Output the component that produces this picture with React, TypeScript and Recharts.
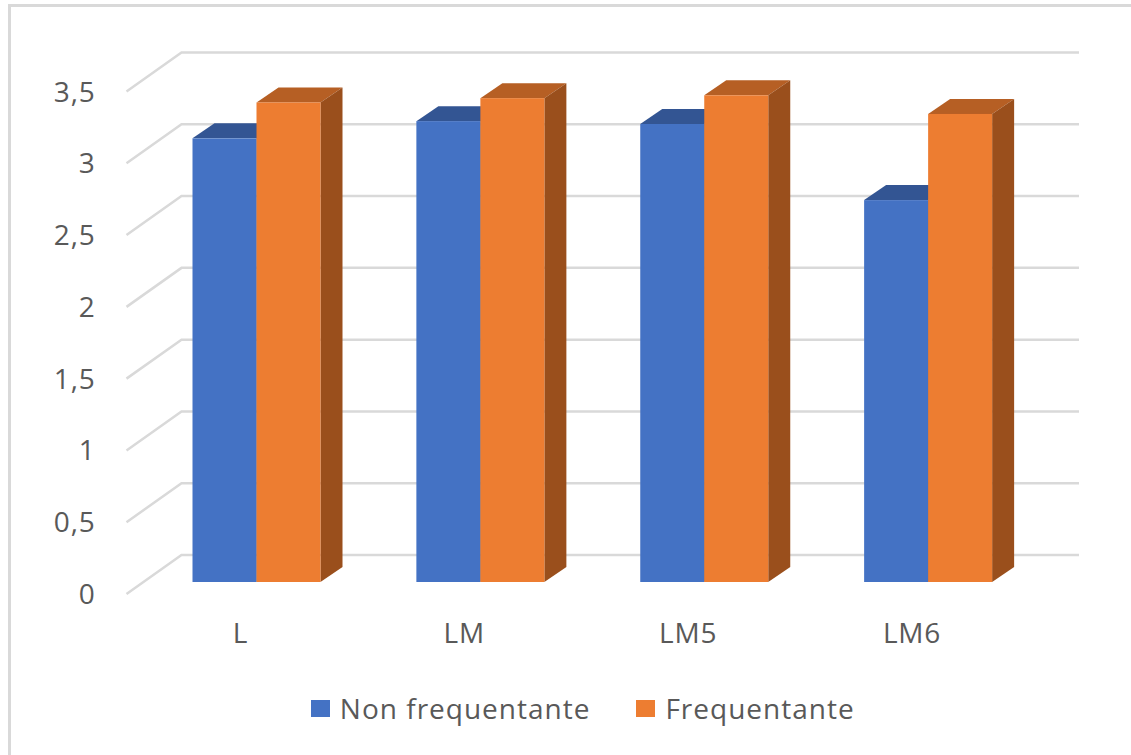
import { BarChart, Bar, XAxis, YAxis, CartesianGrid, Legend } from "recharts";

const categories = ["L", "LM", "LM5", "LM6"];
const nonFrequentante = [3.09, 3.21, 3.19, 2.66];
const frequentante = [3.34, 3.37, 3.39, 3.26];
const yTicks = [0, 0.5, 1, 1.5, 2, 2.5, 3, 3.5];

const data = categories.map((name, i) => ({
  name,
  nonFrequentante: nonFrequentante[i],
  frequentante: frequentante[i],
}));

const TEXT_COLOR = "#595959";
const FONT = "'Open Sans', sans-serif";

// 3D look: front face plus top and right side faces
const Box3D = (props: any) => {
  const { x, y, width, height, fill, topFill, sideFill } = props;
  const dx = 22;
  const dy = 15;
  const r = x + width;
  const b = y + height;
  return (
    <g>
      <polygon points={`${x},${y} ${x + dx},${y - dy} ${r + dx},${y - dy} ${r},${y}`} fill={topFill} />
      <polygon points={`${r},${y} ${r + dx},${y - dy} ${r + dx},${b - dy} ${r},${b}`} fill={sideFill} />
      <rect x={x} y={y} width={width} height={height} fill={fill} />
    </g>
  );
};

// each gridline runs along the side wall, then along the back wall
const WallLine = (props: any) => {
  const { x1, x2, y1 } = props;
  return (
    <path
      d={`M${x1 - 18},${y1 + 12} L${x1 + 37},${y1 - 27} L${x2 + 39},${y1 - 27}`}
      fill="none"
      stroke="#d9d9d9"
      strokeWidth={2.5}
    />
  );
};

const ValueTick = ({ x, y, payload }: any) => (
  <text x={x - 41} y={y + 22} textAnchor="end" fontSize={28} fontFamily={FONT} fill={TEXT_COLOR} letterSpacing={0.8}>
    {String(payload.value).replace(".", ",")}
  </text>
);

const CategoryTick = ({ x, y, payload }: any) => (
  <text x={x - 16} y={y + 53} textAnchor="middle" fontSize={28} fontFamily={FONT} fill={TEXT_COLOR} letterSpacing={0.8}>
    {payload.value}
  </text>
);

const LegendRow = ({ payload }: any) => (
  <div style={{ display: "flex", justifyContent: "center", alignItems: "center", height: 38, paddingLeft: 81, fontFamily: FONT, fontSize: 28, letterSpacing: 1, color: TEXT_COLOR }}>
    {(payload ?? []).map((p: any, i: number) => (
      <div key={p.value} style={{ display: "flex", alignItems: "center", marginLeft: i === 0 ? 0 : 46 }}>
        <span style={{ width: 19, height: 17, background: p.color, marginRight: 10, display: "inline-block" }} />
        <span>{p.value}</span>
      </div>
    ))}
  </div>
);

export default function App() {
  return (
    <div style={{ position: "absolute", left: 0, top: 0, width: 1131, height: 755, background: "#fff", overflow: "hidden" }}>
      <div style={{ position: "absolute", left: 8, top: 4, right: 0, bottom: 0, borderLeft: "3px solid #d9d9d9", borderTop: "3px solid #d9d9d9" }} />
      <div style={{ position: "absolute", left: 0, top: 0 }}>
        <BarChart
          width={1131}
          height={755}
          data={data}
          margin={{ top: 79.5, right: 91, bottom: 26, left: 44.5 }}
          barCategoryGap={48}
          barGap={0}
        >
          <CartesianGrid vertical={false} horizontal={(p: any) => <WallLine key={p.key ?? p.y1} {...p} />} />
          <XAxis dataKey="name" axisLine={false} tickLine={false} height={107} tick={<CategoryTick />} interval={0} />
          <YAxis domain={[0, 3.5]} ticks={yTicks} axisLine={false} tickLine={false} width={100} tick={<ValueTick />} interval={0} />
          <Legend height={40} verticalAlign="bottom" itemSorter={null} content={<LegendRow />} />
          <Bar
            dataKey="nonFrequentante"
            name="Non frequentante"
            fill="#4472c4"
            isAnimationActive={false}
            shape={<Box3D topFill="#335593" sideFill="#2a4a85" />}
          />
          <Bar
            dataKey="frequentante"
            name="Frequentante"
            fill="#ed7d31"
            isAnimationActive={false}
            shape={<Box3D topFill="#b65f24" sideFill="#9a4f1c" />}
          />
        </BarChart>
      </div>
    </div>
  );
}
